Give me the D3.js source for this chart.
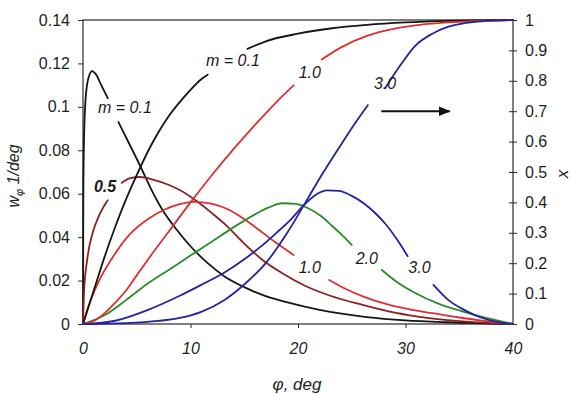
<!DOCTYPE html>
<html>
<head>
<meta charset="utf-8">
<script src="https://cdn.jsdelivr.net/npm/d3@7"></script>
<style>
  body { margin: 0; background: #fff; }
  svg { font-family: "Liberation Sans", Arial, sans-serif; }
</style>
</head>
<body>
<div id="chart"></div>
<script>
// ---- data: [phi (deg), value], split where labels cut the line ----
const phiTicks = [0, 10, 20, 30, 40];
const phiTickLabels = ['0', '10', '20', '30', '40'];
const wTicks = [0, 0.02, 0.04, 0.06, 0.08, 0.1, 0.12, 0.14];
const wTickLabels = ['0', '0.02', '0.04', '0.06', '0.08', '0.1', '0.12', '0.14'];
const xTicks = [0, 0.1, 0.2, 0.3, 0.4, 0.5, 0.6, 0.7, 0.8, 0.9, 1];
const xTickLabels = ['0', '0.1', '0.2', '0.3', '0.4', '0.5', '0.6', '0.7', '0.8', '0.9', '1'];

// probability density w_phi (left axis)
const pdf01 = [
  [[0,0],[0.03,0.06],[0.12,0.09],[0.3,0.107],[0.6,0.1148],[0.85,0.1165],[1.2,0.115],[1.7,0.110],[2.3,0.104]],
  [[3.3,0.093],[4.3,0.083],[5.3,0.073],[6.3,0.0625],[7.4,0.0525],[8.7,0.0435],[10,0.0358],[11.6,0.028],[13.2,0.0218],
   [15,0.017],[17,0.0128],[19.2,0.0097],[22,0.0065],[26.4,0.0032],[30,0.0017],[34,0.0008],[40,0]]
];
const pdf05 = [
  [[0,0],[0.1,0.015],[0.4,0.03],[0.9,0.042],[1.5,0.050],[2.3,0.057]],
  [[3.6,0.065],[4.4,0.0672],[5.3,0.0677],[6.5,0.0665],[8,0.064],[9,0.0617],[10.6,0.0565],[12,0.051],[13.2,0.046],
   [14.8,0.038],[16.7,0.0295],[18.5,0.0235],[20.7,0.0175],[23,0.013],[26,0.0088],[29,0.0052],[32,0.0028],[36,0.001],[40,0]]
];
const pdf10 = [
  [[0,0],[0.5,0.008],[1.5,0.02],[2.8,0.031],[4.3,0.041],[5.95,0.048],[7.5,0.0525],[9,0.0552],[10.4,0.0562],
   [11.8,0.0555],[12.9,0.054],[14.5,0.050],[16,0.0447],[17.8,0.038],[19.6,0.0318]],
  [[22.9,0.0203],[24.5,0.016],[26.2,0.0124],[28.5,0.0088],[30.5,0.0066],[32.5,0.005],[35,0.003],[37.5,0.0013],[40,0]]
];
const pdf20 = [
  [[0,0],[2,0.004],[4,0.011],[6,0.0185],[8,0.025],[10,0.0315],[12,0.038],[14,0.0445],[16,0.0505],[17.3,0.0537],
   [18.5,0.0556],[19.8,0.0553],[21,0.0532],[22.2,0.0495],[23.2,0.045],[24.2,0.0405],[25,0.0364]],
  [[27.8,0.0249],[29.3,0.019],[30.9,0.0143],[33,0.0095],[35.5,0.0055],[37.5,0.0028],[40,0]]
];
const pdf30 = [
  [[0,0],[3,0.0015],[6,0.0064],[9,0.013],[11,0.018],[13.2,0.0238],[15,0.0298],[16.5,0.0355],[18,0.042],[19.3,0.048],
   [20.5,0.0545],[21.6,0.0593],[22.7,0.0615],[23.8,0.0613],[25,0.059],[26.2,0.0553],[27.2,0.051],[28.1,0.0463],[29.2,0.039],[30.2,0.0312]],
  [[32.6,0.018],[34,0.011],[35.5,0.0064],[37,0.003],[38.5,0.001],[40,0]]
];

// cumulative fraction x (right axis)
const cdf01 = [
  [[0,0],[1,0.11],[2,0.22],[3,0.32],[4,0.41],[5,0.49],[6,0.565],[7,0.63],[8,0.685],[9,0.73],[10,0.77],[11,0.805],[11.6,0.82]],
  [[15.3,0.905],[17,0.93],[20,0.955],[23,0.972],[26.4,0.984],[30,0.992],[34,0.997],[40,1]]
];
const cdf10 = [
  [[0,0],[1,0.01],[2,0.035],[3,0.07],[4,0.11],[5,0.16],[6,0.21],[8,0.305],[10,0.4],[12,0.49],[14,0.575],[16,0.655],
   [18,0.73],[19.6,0.785]],
  [[22.2,0.87],[24,0.91],[26.4,0.948],[29,0.972],[31.5,0.985],[35,0.994],[40,1]]
];
const cdf30 = [
  [[0,0],[4,0.003],[7,0.01],[9,0.02],[11,0.04],[13.2,0.08],[15,0.13],[17,0.2],[19,0.3],[20.7,0.4],[22.2,0.49],
   [24,0.59],[25.5,0.67],[26.5,0.72]],
  [[28.1,0.775],[29.5,0.85],[30.9,0.915],[32.5,0.955],[34,0.978],[35.5,0.99],[37.5,0.997],[40,1]]
];

const series = [
  { segs: pdf01, axis: 'L' }, { segs: pdf05, axis: 'L' }, { segs: pdf10, axis: 'L' },
  { segs: pdf20, axis: 'L' }, { segs: pdf30, axis: 'L' },
  { segs: cdf01, axis: 'R' }, { segs: cdf10, axis: 'R' }, { segs: cdf30, axis: 'R' }
];
const seriesColors = ['#151515', '#8a2222', '#dc3030', '#2c8c2c', '#23239e', '#151515', '#dc3030', '#23239e'];

// curve labels placed in data units
const labels = [
  { t: 'm = 0.1', phi: 3.9, v: 0.0972, axis: 'L' },
  { t: '0.5', phi: 2.05, v: 0.0608, axis: 'L', bold: true },
  { t: '1.0', phi: 21.1, v: 0.0235, axis: 'L' },
  { t: '2.0', phi: 26.4, v: 0.0276, axis: 'L' },
  { t: '3.0', phi: 31.3, v: 0.0235, axis: 'L' },
  { t: 'm = 0.1', phi: 13.95, v: 0.849, axis: 'R' },
  { t: '1.0', phi: 21.1, v: 0.809, axis: 'R' },
  { t: '3.0', phi: 28.1, v: 0.773, axis: 'R' }
];

// ---- drawing ----
const width = 572, height = 394;
const margin = { top: 20, right: 59, bottom: 70, left: 83 };

const svg = d3.select('#chart').append('svg')
  .attr('width', width)
  .attr('height', height);

const x = d3.scaleLinear().domain([0, 40]).range([margin.left, width - margin.right]);
const yL = d3.scaleLinear().domain([0, 0.14]).range([height - margin.bottom, margin.top]);
const yR = d3.scaleLinear().domain([0, 1]).range([height - margin.bottom, margin.top]);

const axisColor = '#2a2a2a';

// left axis
const gL = svg.append('g').attr('transform', `translate(${margin.left},0)`)
  .call(d3.axisLeft(yL).tickValues(wTicks).tickFormat((d, i) => wTickLabels[i]).tickSize(5).tickPadding(8));
// right axis with crossing ticks
const gR = svg.append('g').attr('transform', `translate(${width - margin.right},0)`)
  .call(d3.axisRight(yR).tickValues(xTicks).tickFormat((d, i) => xTickLabels[i]).tickSize(4).tickPadding(8));
gR.selectAll('.tick line').attr('x1', -4).attr('x2', 4);
// bottom axis
const gB = svg.append('g').attr('transform', `translate(0,${height - margin.bottom})`)
  .call(d3.axisBottom(x).tickValues(phiTicks).tickFormat((d, i) => phiTickLabels[i]).tickSize(4).tickPadding(15));
gB.selectAll('.tick text').style('font-style', 'italic');
gB.selectAll('.tick').filter(d => d === 0 || d === 40).select('line').remove();

[gL, gR, gB].forEach(g => {
  g.attr('color', axisColor);
  g.select('.domain').remove();
  g.selectAll('.tick text').attr('font-size', 16).attr('font-family', null).attr('fill', '#1e1e1e');
});

// frame
svg.append('rect')
  .attr('x', margin.left).attr('y', margin.top)
  .attr('width', width - margin.right - margin.left)
  .attr('height', height - margin.bottom - margin.top)
  .attr('fill', 'none').attr('stroke', axisColor).attr('stroke-width', 1.2);

// curves
const lineL = d3.line().x(d => x(d[0])).y(d => yL(d[1])).curve(d3.curveMonotoneX);
const lineR = d3.line().x(d => x(d[0])).y(d => yR(d[1])).curve(d3.curveMonotoneX);

series.forEach((s, i) => {
  svg.append('g').selectAll('path')
    .data(s.segs)
    .enter().append('path')
    .attr('d', s.axis === 'L' ? lineL : lineR)
    .attr('fill', 'none')
    .attr('stroke', seriesColors[i])
    .attr('stroke-width', 1.8)
    .attr('stroke-linecap', 'round');
});

// curve labels
svg.append('g').selectAll('text')
  .data(labels)
  .enter().append('text')
  .attr('x', d => x(d.phi))
  .attr('y', d => (d.axis === 'L' ? yL : yR)(d.v))
  .attr('text-anchor', 'middle')
  .attr('font-size', 16)
  .attr('font-style', 'italic')
  .attr('font-weight', d => d.bold ? 'bold' : 'normal')
  .attr('fill', '#1a1a1a')
  .text(d => d.t);

// arrow pointing to the right axis
svg.append('defs').append('marker')
  .attr('id', 'arrowhead').attr('viewBox', '0 0 10 10')
  .attr('refX', 9).attr('refY', 5)
  .attr('markerWidth', 6).attr('markerHeight', 6)
  .attr('orient', 'auto')
  .append('path').attr('d', 'M0,1 L10,5 L0,9 Z').attr('fill', '#111');
svg.append('line')
  .attr('x1', x(27.75)).attr('x2', x(34.1))
  .attr('y1', yR(0.70)).attr('y2', yR(0.70))
  .attr('stroke', '#111').attr('stroke-width', 2)
  .attr('marker-end', 'url(#arrowhead)');

// axis titles
svg.append('text')
  .attr('x', (margin.left + width - margin.right) / 2 - 1)
  .attr('y', 390)
  .attr('text-anchor', 'middle')
  .attr('font-size', 17)
  .attr('font-style', 'italic')
  .attr('fill', '#222')
  .text('φ, deg');

const yTitle = svg.append('text')
  .attr('transform', 'translate(19,176) rotate(-90)')
  .attr('text-anchor', 'middle')
  .attr('font-size', 16)
  .attr('font-style', 'italic')
  .attr('fill', '#222');
yTitle.append('tspan').text('w');
yTitle.append('tspan').attr('font-size', 11).attr('dy', 4).text('φ');
yTitle.append('tspan').attr('dy', -4).text('  1/deg');

svg.append('text')
  .attr('transform', 'translate(568,174) rotate(-90)')
  .attr('text-anchor', 'middle')
  .attr('font-size', 17)
  .attr('font-style', 'italic')
  .attr('fill', '#222')
  .text('x');
</script>
</body>
</html>
